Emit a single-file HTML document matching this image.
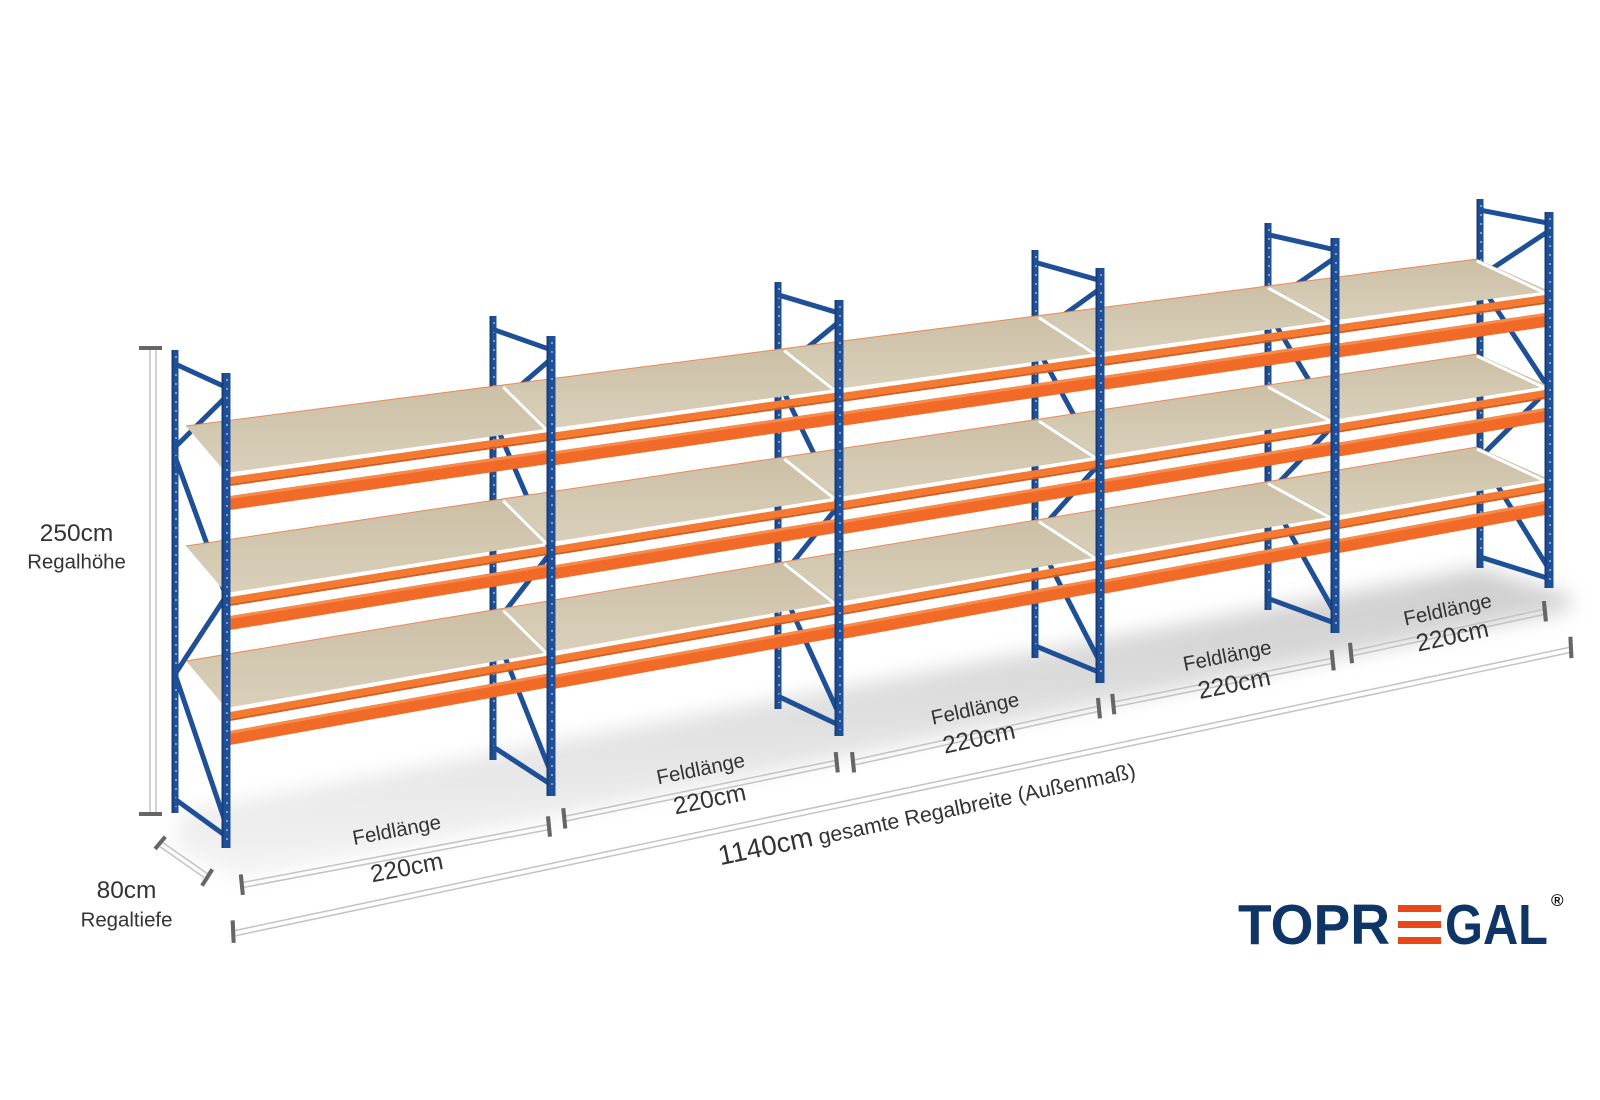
<!DOCTYPE html>
<html><head><meta charset="utf-8"><style>
html,body{margin:0;padding:0;background:#fff;width:1600px;height:1100px;overflow:hidden}
svg{display:block}
text{font-family:"Liberation Sans",Arial,sans-serif;fill:#333}
</style></head><body>
<svg id="s" width="1600" height="1100" viewBox="0 0 1600 1100" xmlns="http://www.w3.org/2000/svg">
<defs>
<linearGradient id="sh" x1="0" y1="0" x2="0" y2="1">
<stop offset="0" stop-color="#cbbfa5"/><stop offset="1" stop-color="#dad0ba"/></linearGradient>
<linearGradient id="fl" x1="0" y1="0" x2="0" y2="1">
<stop offset="0" stop-color="#c8c8c8"/><stop offset="1" stop-color="#f4f4f4"/></linearGradient>
<filter id="bl"><feGaussianBlur stdDeviation="10"/></filter>
</defs>
<polygon points="180,812 1480,568 1570,595 1570,610 240,880 175,850" fill="url(#fl)" filter="url(#bl)" opacity="0.9"/>
<g id="g"></g>
<g stroke="#c4c4c4" stroke-width="1.5" fill="none">
<line x1="150" y1="350" x2="150" y2="813"/><line x1="156" y1="350" x2="156" y2="813"/>
</g>
<g stroke="#666" stroke-width="4">
<line x1="139" y1="348" x2="162" y2="348"/><line x1="139" y1="814" x2="162" y2="814"/>
</g>
<g transform="scale(1.0204)">
<g stroke="#c4c4c4" stroke-width="1.5" fill="none">
<line x1="160" y1="826" x2="203" y2="856"/><line x1="157" y1="830" x2="200" y2="860"/>
<line x1="230" y1="912" x2="1540" y2="634"/><line x1="231" y1="917" x2="1541" y2="639"/>
</g>
<g stroke="#666" stroke-width="4">
<line x1="152" y1="832" x2="162" y2="820"/><line x1="198" y1="868" x2="208" y2="852"/>
<line x1="228" y1="902" x2="229" y2="924"/><line x1="1539" y1="624" x2="1540" y2="645"/>
</g>
<g id="dims"></g>
<text x="75" y="530" font-size="24" text-anchor="middle">250cm</text>
<text x="75" y="557" font-size="20" text-anchor="middle">Regalhöhe</text>
<text x="124" y="880" font-size="24" text-anchor="middle">80cm</text>
<text x="124" y="908" font-size="20" text-anchor="middle">Regaltiefe</text>
<text transform="translate(910,805) rotate(-11.9)" text-anchor="middle"><tspan font-size="27">1140cm</tspan><tspan font-size="21"> gesamte Regalbreite (Außenmaß)</tspan></text>
</g>
<text x="1238" y="944" font-size="57" font-weight="bold" style="fill:#0f3567" textLength="152" lengthAdjust="spacingAndGlyphs">TOPR</text>
<rect x="1398" y="905" width="43" height="7" fill="#e84818"/>
<rect x="1398" y="921" width="43" height="7" fill="#e84818"/>
<rect x="1398" y="937" width="43" height="7" fill="#e84818"/>
<text x="1445" y="944" font-size="57" font-weight="bold" style="fill:#0f3567" textLength="103" lengthAdjust="spacingAndGlyphs">GAL</text>
<text x="1551" y="906" font-size="17" font-weight="bold" style="fill:#111">®</text>
</svg>
<script>
var NS="http://www.w3.org/2000/svg",g=document.getElementById("g"),dm=document.getElementById("dims");
function el(p,t,a){var e=document.createElementNS(NS,t);for(var k in a)e.setAttribute(k,a[k]);p.appendChild(e);return e;}
function poly(p,pts,fill){return el(p,"polygon",{points:pts.map(function(q){return q[0].toFixed(1)+","+q[1].toFixed(1)}).join(" "),fill:fill});}
var FX=[226,551,839,1100,1335,1549],FT=[373,336,300,268,238,212],FB=[848,796,736,683,633,588];
var BX=[175,493,778,1035,1268,1480],BT=[350,316,282,250,223,199],BB=[813,760,709,658,610,568];
var L=[473,593,708],R=[291,386,479];
function fr(x){return (x-226)/1323;}
function lv(k,x){var f=fr(x);return L[k]+(R[k]-L[k])*f;}
function dep(x){var f=fr(x);return [-40-32*f,-47+15*f];}
var BLUE="#1f4f96",DB="#173d78";
function upright(x,t,b,w){el(g,"rect",{x:x-w/2,y:t,width:w,height:b-t,fill:BLUE});el(g,"rect",{x:x-w/2,y:t,width:2,height:b-t,fill:DB});
el(g,"line",{x1:x+1,y1:t+6,x2:x+1,y2:b-6,stroke:"#9fb6da","stroke-width":1.5,"stroke-dasharray":"2 7"});}
for(var i=0;i<6;i++){
  upright(BX[i],BT[i],BB[i],7);
  (function(i){
  var bx=BX[i],fx=FX[i];
  function pB(a){return [bx,BT[i]+(BB[i]-BT[i])*a];}
  function pF(a){return [fx,FT[i]+(FB[i]-FT[i])*a];}
  var segs=[[pB(0.03),pF(0.03)],[pF(0.05),pB(0.21)],[pB(0.23),pF(0.47)],[pF(0.47),pB(0.70)],[pB(0.70),pF(0.95)],[pB(0.97),pF(0.975)]];
  segs.forEach(function(s){el(g,"line",{x1:s[0][0],y1:s[0][1],x2:s[1][0],y2:s[1][1],stroke:BLUE,"stroke-width":5});});
  })(i);
}
for(var k=0;k<3;k++){
  for(var i=0;i<5;i++){
    var x1=FX[i],x2=FX[i+1],y1=lv(k,x1),y2=lv(k,x2),d1=dep(x1),d2=dep(x2);
    poly(g,[[x1,y1],[x2,y2],[x2+d2[0],y2+d2[1]],[x1+d1[0],y1+d1[1]]],"url(#sh)");
    el(g,"line",{x1:x1+d1[0],y1:y1+d1[1],x2:x2+d2[0],y2:y2+d2[1],stroke:"#e88a5a","stroke-width":1});
    el(g,"line",{x1:x2+d2[0],y1:y2+d2[1]+2,x2:x2-4,y2:y2+2,stroke:"#ffffff","stroke-width":3});
    var a=x1+4,b=x2-4;
    poly(g,[[a,y1+4],[b,y2+4],[b,y2+11],[a,y1+11]],"#f47a32");
    poly(g,[[a,y1+11],[b,y2+11],[b,y2+13],[a,y1+13]],"#d85a1c");
    poly(g,[[a,y1+23],[b,y2+22],[b,y2+36],[a,y1+37]],"#f26a28");
    poly(g,[[a,y1+23],[b,y2+22],[b,y2+25],[a,y1+26]],"#f88a4a");
  }
}
for(var i=0;i<6;i++){upright(FX[i],FT[i],FB[i],9);}
var bays=[[237,865,538,808,390,820,400,858],[553,800,820,745,688,760,697,791],[836,745,1077,692,957,701,961,731],[1091,688,1306,645,1204,649,1211,678],[1324,638,1514,597,1420,604,1425,631]];
bays.forEach(function(b){
  var ang=Math.atan2(b[3]-b[1],b[2]-b[0])*180/Math.PI;
  el(dm,"line",{x1:b[0],y1:b[1],x2:b[2],y2:b[3],stroke:"#c4c4c4","stroke-width":1.5});
  el(dm,"line",{x1:b[0],y1:b[1]+5,x2:b[2],y2:b[3]+5,stroke:"#c4c4c4","stroke-width":1.5});
  [[b[0],b[1]],[b[2],b[3]]].forEach(function(p){el(dm,"line",{x1:p[0]-1,y1:p[1]-8,x2:p[0]+1,y2:p[1]+12,stroke:"#666","stroke-width":4});});
  var t=el(dm,"text",{transform:"translate("+b[4]+","+b[5]+") rotate("+ang.toFixed(1)+")","text-anchor":"middle","font-size":20});t.textContent="Feldlänge";
  var t2=el(dm,"text",{transform:"translate("+b[6]+","+b[7]+") rotate("+ang.toFixed(1)+")","text-anchor":"middle","font-size":24});t2.textContent="220cm";
});
</script>
</body></html>
